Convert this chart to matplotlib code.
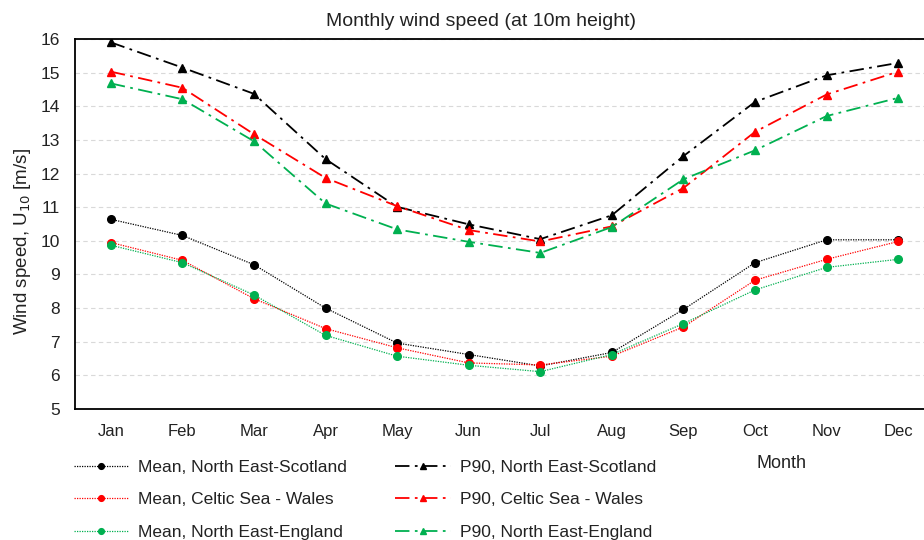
import matplotlib
matplotlib.use("Agg")
import matplotlib.pyplot as plt

months = ["Jan", "Feb", "Mar", "Apr", "May", "Jun", "Jul", "Aug", "Sep", "Oct", "Nov", "Dec"]

mean_nes = [10.64, 10.16, 9.29, 8.00, 6.96, 6.62, 6.28, 6.68, 7.96, 9.35, 10.03, 10.03]
mean_csw = [9.95, 9.42, 8.28, 7.39, 6.82, 6.37, 6.31, 6.57, 7.44, 8.83, 9.45, 9.98]
mean_nee = [9.87, 9.35, 8.39, 7.19, 6.57, 6.30, 6.11, 6.62, 7.54, 8.54, 9.21, 9.45]
p90_nes = [15.90, 15.15, 14.37, 12.43, 11.01, 10.49, 10.05, 10.76, 12.52, 14.13, 14.92, 15.29]
p90_csw = [15.03, 14.55, 13.17, 11.87, 11.03, 10.32, 9.98, 10.43, 11.57, 13.24, 14.35, 15.03]
p90_nee = [14.68, 14.21, 12.96, 11.11, 10.34, 9.97, 9.64, 10.41, 11.83, 12.69, 13.71, 14.25]

labels = ["Mean, North East-Scotland", "Mean, Celtic Sea - Wales", "Mean, North East-England",
          "P90, North East-Scotland", "P90, Celtic Sea - Wales", "P90, North East-England"]
colors = ["#000000", "#ff0000", "#00b050"]

plt.rcParams['font.family'] = ['Liberation Sans', 'DejaVu Sans']
plt.rcParams['text.color'] = '#222222'

fig = plt.figure(figsize=(9.24, 5.4), dpi=100)
ax = fig.add_axes([75/924, 131/540, 859/924, 370/540])

x = list(range(len(months)))
dashdot = (0, (8, 3, 1.5, 3))
handles = []
for vals, c, lab in zip([mean_nes, mean_csw, mean_nee], colors, labels[:3]):
    h, = ax.plot(x, vals, color=c, linestyle=(0, (1, 1)), linewidth=0.9,
                 marker='o', markersize=5.5, label=lab, zorder=3)
    handles.append(h)
for vals, c, lab in zip([p90_nes, p90_csw, p90_nee], colors, labels[3:]):
    h, = ax.plot(x, vals, color=c, linestyle=dashdot, linewidth=1.3,
                 marker='^', markersize=5.5, label=lab, zorder=3)
    handles.append(h)

ax.set_xlim(-0.5, 11.5)
ax.set_ylim(5, 16)
ax.set_yticks(range(5, 17))
ax.set_xticks(x)
ax.set_xticklabels(months)
ax.tick_params(axis='x', length=0, pad=11, labelsize=12, labelcolor='#222222')
ax.tick_params(axis='y', length=0, pad=11, labelsize=12.5, labelcolor='#222222')
ax.yaxis.grid(True, color='#d9d9d9', linestyle=(0, (4, 3)), linewidth=0.8)
ax.set_axisbelow(True)
for s in ax.spines.values():
    s.set_color('#000000')
    s.set_linewidth(1.3)

fig.text(23/924, 1 - 242/540, "Wind speed, U$_{10}$ [m/s]", rotation=90,
         ha='center', va='center', fontsize=13.5)
fig.text(481/924, 1 - 21/540, "Monthly wind speed (at 10m height)", ha='center', va='center',
         fontsize=14)
fig.text(781/924, 1 - 463/540, "Month", ha='center', va='center', fontsize=13)

leg = fig.legend(handles=handles, loc='upper left', bbox_to_anchor=(58/924, 1 - 444/540),
                 ncol=2, frameon=False, handlelength=3.2, handletextpad=0.5,
                 columnspacing=2.8, labelspacing=1.0, markerscale=0.75,
                 prop={'size': 12.5})

fig.savefig("out.png", dpi=100)
